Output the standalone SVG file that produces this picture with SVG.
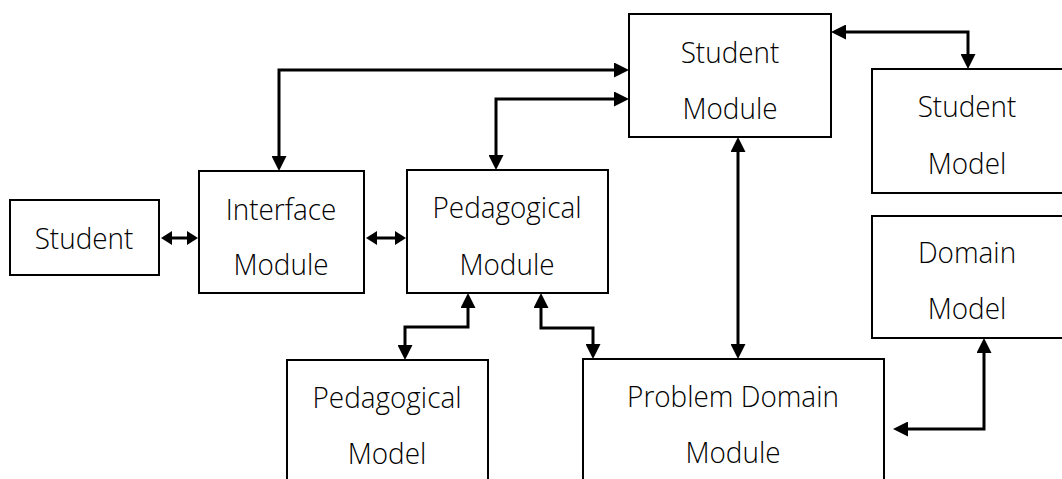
<svg xmlns="http://www.w3.org/2000/svg" width="1062" height="479" viewBox="0 0 1062 479">
  <style>
    .box { fill: #ffffff; stroke: #000000; stroke-width: 2; }
    .lbl { font-family: "Open Sans", "Noto Sans", sans-serif; font-weight: 300; font-size: 30px; fill: #000000; text-anchor: middle; }
    .wire { fill: none; stroke: #000000; stroke-width: 3; }
    .big { marker-start: url(#head); marker-end: url(#head); }
    .small { marker-start: url(#headS); marker-end: url(#headS); }
  </style>
  <defs>
    <marker id="head" viewBox="0 0 15 15" markerWidth="15" markerHeight="15" markerUnits="userSpaceOnUse" refX="8" refY="7.5" orient="auto-start-reverse">
      <path d="M0,0 L15,7.5 L0,15 z" fill="#000000"/>
    </marker>
    <marker id="headS" viewBox="0 0 11 14" markerWidth="11" markerHeight="14" markerUnits="userSpaceOnUse" refX="5" refY="7" orient="auto-start-reverse">
      <path d="M0,0 L11,7 L0,14 z" fill="#000000"/>
    </marker>
  </defs>
  <rect width="1062" height="479" fill="#ffffff"/>

  <g id="connectors">
    <line class="wire small" x1="167" y1="238" x2="192" y2="238"/>
    <line class="wire small" x1="372" y1="238" x2="400" y2="238"/>
    <path class="wire big" d="M279,164 V70 H622"/>
    <path class="wire big" d="M496,163 V99 H622"/>
    <path class="wire big" d="M838,32 H968 V62"/>
    <path class="wire big" d="M738,144 V352"/>
    <path class="wire big" d="M468,300 V327 H405 V353"/>
    <path class="wire big" d="M541,300 V328 H593 V352"/>
    <path class="wire big" d="M984,345 V429 H900"/>
  </g>

  <!-- labels are narrowed slightly with a horizontal scale around their anchor -->
  <g id="student">
    <rect class="box" x="10" y="200" width="149" height="75"/>
    <text class="lbl" transform="translate(84,249) scale(0.93,1)">Student</text>
  </g>
  <g id="interface-module">
    <rect class="box" x="199" y="171" width="165" height="122"/>
    <text class="lbl" transform="translate(281,220) scale(0.93,1)">Interface</text>
    <text class="lbl" transform="translate(281,275) scale(0.93,1)">Module</text>
  </g>
  <g id="pedagogical-module">
    <rect class="box" x="407" y="170" width="201" height="123"/>
    <text class="lbl" transform="translate(507,218) scale(0.93,1)">Pedagogical</text>
    <text class="lbl" transform="translate(507,275) scale(0.93,1)">Module</text>
  </g>
  <g id="student-module">
    <rect class="box" x="629" y="14" width="202" height="123"/>
    <text class="lbl" transform="translate(730,63) scale(0.93,1)">Student</text>
    <text class="lbl" transform="translate(730,119) scale(0.93,1)">Module</text>
  </g>
  <g id="student-model">
    <rect class="box" x="872" y="69" width="192" height="124"/>
    <text class="lbl" transform="translate(967,117) scale(0.93,1)">Student</text>
    <text class="lbl" transform="translate(967,174) scale(0.93,1)">Model</text>
  </g>
  <g id="domain-model">
    <rect class="box" x="872" y="216" width="192" height="122"/>
    <text class="lbl" transform="translate(967,263) scale(0.93,1)">Domain</text>
    <text class="lbl" transform="translate(967,319) scale(0.93,1)">Model</text>
  </g>
  <g id="pedagogical-model">
    <rect class="box" x="287" y="360" width="201" height="130"/>
    <text class="lbl" transform="translate(387,408) scale(0.93,1)">Pedagogical</text>
    <text class="lbl" transform="translate(387,464) scale(0.93,1)">Model</text>
  </g>
  <g id="problem-domain-module">
    <rect class="box" x="583" y="359" width="301" height="130"/>
    <text class="lbl" transform="translate(733,407) scale(0.93,1)">Problem Domain</text>
    <text class="lbl" transform="translate(733,463) scale(0.93,1)">Module</text>
  </g>
</svg>
